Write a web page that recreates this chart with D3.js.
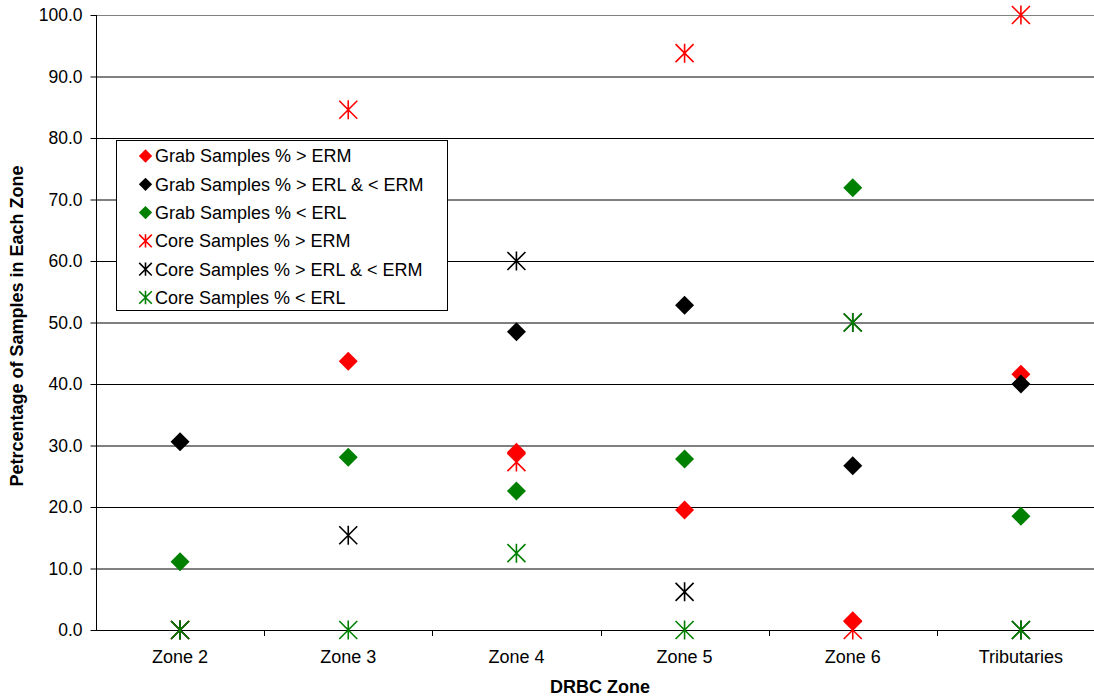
<!DOCTYPE html>
<html><head><meta charset="utf-8">
<script src="https://cdn.jsdelivr.net/npm/d3@7"></script>
<style>body{margin:0;background:#fff;} svg{display:block;font-family:Arial,"Liberation Sans",sans-serif;}</style>
</head><body><svg id="c" width="1094" height="698"></svg>
<script>
const categories = ["Zone 2","Zone 3","Zone 4","Zone 5","Zone 6","Tributaries"];
const yTicks = [0,10,20,30,40,50,60,70,80,90,100];
const grabERM   = [null, 43.7, 28.9, 19.5, 1.5, 41.6];
const grabMid   = [30.6, null, 48.5, 52.8, 26.7, 40.0];
const grabERL   = [11.1, 28.1, 22.6, 27.8, 71.9, 18.5];
const coreERM   = [0, 84.6, 27.3, 93.8, 0, 100];
const coreMid   = [0, 15.4, 60.0, 6.2, 50.0, 0];
const coreERL   = [0, 0, 12.5, 0, 50.0, 0];
const seriesNames = ["Grab Samples % > ERM","Grab Samples % > ERL & < ERM","Grab Samples % < ERL",
                     "Core Samples % > ERM","Core Samples % > ERL & < ERM","Core Samples % < ERL"];

const series = [
  {name:seriesNames[0], vals:grabERM, color:"#ff0000", shape:"diamond"},
  {name:seriesNames[1], vals:grabMid, color:"#000000", shape:"diamond"},
  {name:seriesNames[2], vals:grabERL, color:"#008000", shape:"diamond"},
  {name:seriesNames[3], vals:coreERM, color:"#ff0000", shape:"star"},
  {name:seriesNames[4], vals:coreMid, color:"#000000", shape:"star"},
  {name:seriesNames[5], vals:coreERL, color:"#008000", shape:"star"}
];

const FONT = "Arial, 'Liberation Sans', sans-serif";
const svg = d3.select("#c");
const L=96, R=1105, T=15, B=630;
const x = d3.scaleBand().domain(categories).range([L,R]);
const y = d3.scaleLinear().domain([0,100]).range([B,T]);

const defs = svg.append("defs");
defs.append("clipPath").attr("id","clip").append("rect").attr("x",0).attr("y",0).attr("width",1094).attr("height",698);

// gridlines
svg.append("g").selectAll("line").data(yTicks.filter(d=>d>0)).join("line")
  .attr("x1",L).attr("x2",R).attr("y1",d=>y(d)+0.5).attr("y2",d=>y(d)+0.5)
  .attr("stroke", d=> d===100 ? "#808080" : "#000").attr("stroke-width",1);

// y axis
const ya = svg.append("g").attr("transform",`translate(${L+0.5},0)`)
  .call(d3.axisLeft(y).tickValues(yTicks).tickFormat(d3.format(".1f")).tickSize(6).tickPadding(8));
ya.select(".domain").attr("d",`M0,${T}V${B}`).attr("stroke","#000");
ya.selectAll(".tick line").attr("stroke","#000");
ya.selectAll("text").attr("font-size",17.5).attr("fill","#000").attr("font-family",FONT);

// x axis
const xa = svg.append("g").attr("transform",`translate(0,${B+0.5})`)
  .call(d3.axisBottom(x).tickSize(0).tickPadding(20));
xa.select(".domain").attr("d",`M${L},0H${R}`).attr("stroke","#000");
xa.selectAll("text").attr("font-size",18).attr("fill","#000").attr("font-family",FONT);
// between-category tick marks
svg.append("g").selectAll("line").data(categories.slice(1)).join("line")
  .attr("x1",d=>Math.round(x(d))+0.5).attr("x2",d=>Math.round(x(d))+0.5)
  .attr("y1",B).attr("y2",B+6).attr("stroke","#000");

function drawMarker(g, shape, color, cx, cy, scale){
  const s = scale||1;
  if(shape==="diamond"){
    const h=9.5*s;
    g.append("path").attr("d",`M${cx},${cy-h}L${cx+h},${cy}L${cx},${cy+h}L${cx-h},${cy}Z`).attr("fill",color);
  } else {
    const h=9.5*s, w=9*s;
    g.append("path").attr("d",`M${cx},${cy-h}V${cy+h}M${cx-w},${cy-w}L${cx+w},${cy+w}M${cx-w},${cy+w}L${cx+w},${cy-w}`)
      .attr("stroke",color).attr("stroke-width",1.6).attr("fill","none");
  }
}

const pts = svg.append("g").attr("clip-path","url(#clip)");
series.forEach(s=>{
  s.vals.forEach((v,i)=>{
    if(v===null) return;
    drawMarker(pts, s.shape, s.color, x(categories[i])+x.bandwidth()/2, y(v));
  });
});

// legend
const lg = svg.append("g");
lg.append("rect").attr("x",116.5).attr("y",140.5).attr("width",331).attr("height",170)
  .attr("fill","#fff").attr("stroke","#000").attr("stroke-width",1);
series.forEach((s,i)=>{
  const cy = 156 + i*28.3;
  drawMarker(lg, s.shape, s.color, 145.5, cy, 0.7);
  lg.append("text").attr("x",155).attr("y",cy).attr("dy","0.36em").attr("font-size",18)
    .attr("font-family",FONT).attr("fill","#000").text(s.name);
});

// titles
svg.append("text").attr("x",600).attr("y",693).attr("text-anchor","middle")
  .attr("font-size",18).attr("font-weight","bold").attr("font-family",FONT).text("DRBC Zone");
svg.append("text").attr("transform","translate(23,326) rotate(-90)").attr("text-anchor","middle")
  .attr("font-size",18).attr("font-weight","bold").attr("font-family",FONT).text("Petrcentage of Samples in Each Zone");
</script></body></html>
